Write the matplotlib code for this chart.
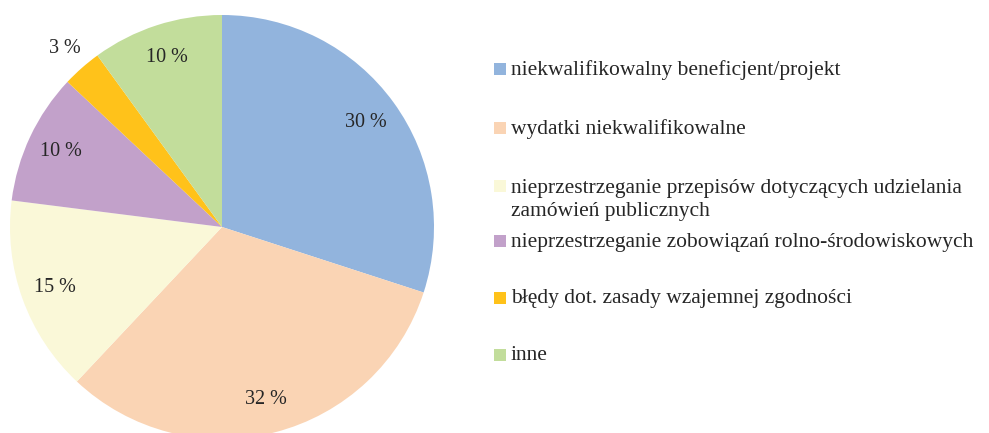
import matplotlib
matplotlib.use("Agg")
from matplotlib import pyplot as plt

# data
categories = [
    "niekwalifikowalny beneficjent/projekt",
    "wydatki niekwalifikowalne",
    "nieprzestrzeganie przepisów dotyczących udzielania\nzamówień publicznych",
    "nieprzestrzeganie zobowiązań rolno-środowiskowych",
    "błędy dot. zasady wzajemnej zgodności",
    "inne",
]
shares = [30, 32, 15, 10, 3, 10]
colors = ["#92B4DD", "#FAD4B4", "#FAF8D8", "#C2A1CA", "#FFC21A", "#C2DD9B"]

plt.rcParams["font.family"] = ["Liberation Serif", "DejaVu Serif"]
text_color = "#262626"

fig = plt.figure(figsize=(9.89, 4.33), dpi=100)
# pie axes: centre (222, 227) px, radius 212 px
W, H = 989, 433
cx, cy, r = 222, 227, 212
ax = fig.add_axes([(cx - r) / W, (H - cy - r) / H, 2 * r / W, 2 * r / H])

wedges, texts, autotexts = ax.pie(
    shares, colors=colors, startangle=90, counterclock=False, radius=1.0,
    autopct=lambda p: "%d %%" % round(p), pctdistance=0.84,
    textprops=dict(fontsize=14.5, color=text_color),
    wedgeprops=dict(linewidth=0),
)
ax.set_xlim(-1, 1)
ax.set_ylim(-1, 1)
ax.set_aspect("equal")
ax.axis("off")

# small slice label sits outside the pie
x, y = autotexts[4].get_position()
autotexts[4].set_position((x * 1.12 / 0.84, y * 1.12 / 0.84))

# legend, drawn row by row
row_y = [70, 129, 187, 242, 299, 356]
for lab, col, yy in zip(categories, colors, row_y):
    fig.patches.append(plt.Rectangle((494 / W, 1 - (yy + 5) / H), 12 / W, 12 / H,
                                     transform=fig.transFigure, color=col, lw=0))
    if "\n" in lab:
        fig.text(511 / W, 1 - (yy - 8) / H, lab, fontsize=15.5, color=text_color,
                 va="top", ha="left", linespacing=1.3)
    else:
        fig.text(511 / W, 1 - yy / H, lab, fontsize=15.5, color=text_color,
                 va="center", ha="left")

fig.savefig("out.png", dpi=100)
